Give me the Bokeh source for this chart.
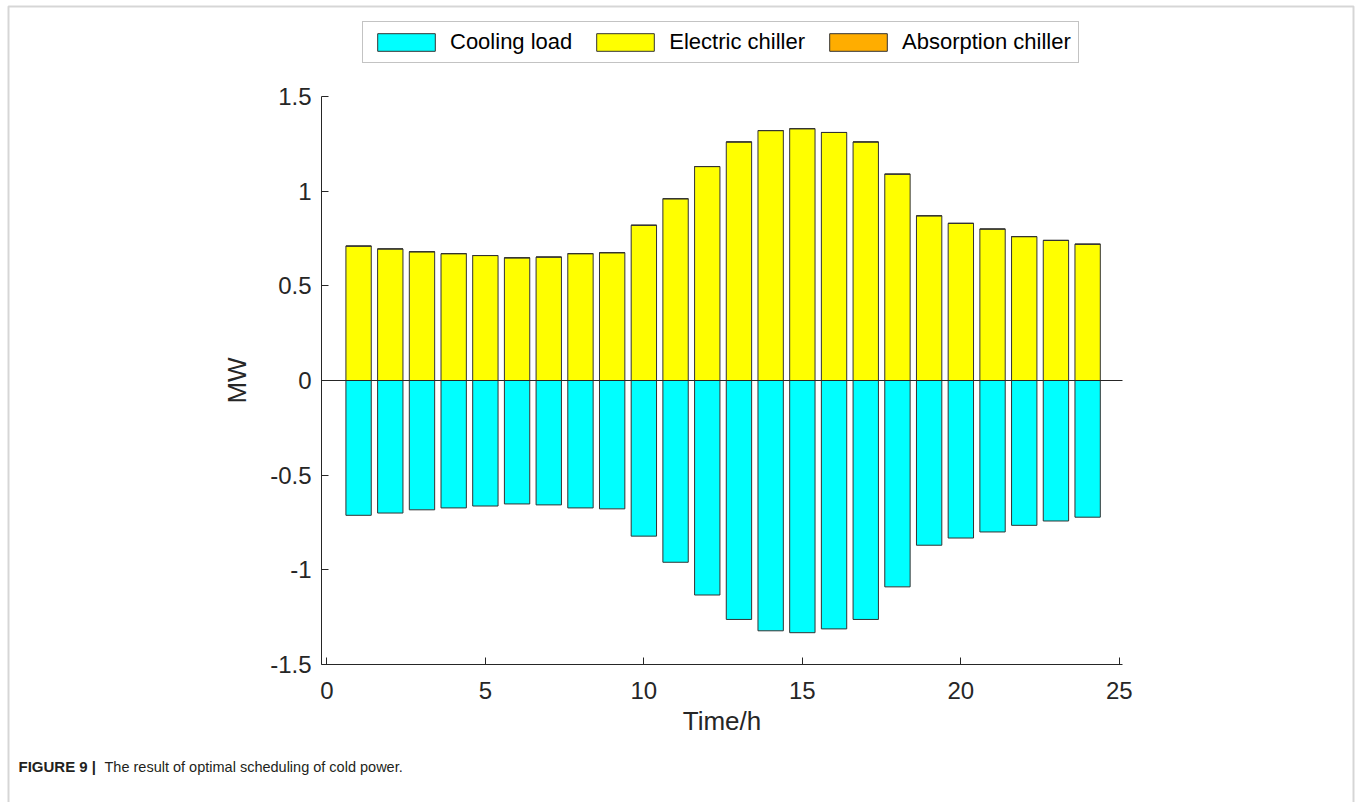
from bokeh.plotting import figure
from bokeh.models import (ColumnDataSource, Legend, LegendItem, FixedTicker,
                          Label, BoxAnnotation, Range1d)
from bokeh.embed import file_html
from bokeh.resources import INLINE

# ---- data ----
hours = list(range(1, 25))
electric_chiller = [0.71, 0.695, 0.68, 0.67, 0.66, 0.648, 0.652, 0.67, 0.675, 0.82,
                    0.96, 1.13, 1.26, 1.32, 1.33, 1.31, 1.26, 1.09, 0.87, 0.83,
                    0.80, 0.76, 0.74, 0.72]
absorption_chiller = [0.0] * 24
cooling_load = [-0.712, -0.70, -0.683, -0.673, -0.663, -0.652, -0.657, -0.673, -0.678, -0.822,
                -0.96, -1.133, -1.262, -1.322, -1.332, -1.312, -1.262, -1.09, -0.87, -0.832,
                -0.80, -0.765, -0.742, -0.722]
y_ticks = [-1.5, -1, -0.5, 0, 0.5, 1, 1.5]
y_tick_labels = ["-1.5", "-1", "-0.5", "0", "0.5", "1", "1.5"]
x_ticks = [0, 5, 10, 15, 20, 25]

# ---- layout (pixels) ----
W, H = 1356, 802
AX_L, AX_R, AX_T, AX_B = 321, 1122, 96, 664
X_LO, X_HI = -0.17, 25.1
Y_LO, Y_HI = -1.5, 1.5
kx = (AX_R - AX_L) / (X_HI - X_LO)
ky = (AX_B - AX_T) / (Y_HI - Y_LO)
def px2x(px):
    return X_LO + (px - AX_L) / kx
def px2y(py):
    return Y_HI - (py - AX_T) / ky

FONT = "Liberation Sans"
AX = "#262626"

src = ColumnDataSource(dict(
    x=hours,
    elec=electric_chiller,
    absb=[e + a for e, a in zip(electric_chiller, absorption_chiller)],
    cool=cooling_load,
    zero=[0.0] * 24,
))

p = figure(width=W, height=H, output_backend="svg", toolbar_location=None,
           x_range=Range1d(px2x(0), px2x(W)), y_range=Range1d(px2y(H), px2y(0)),
           min_border=0)
p.outline_line_color = None
p.xgrid.visible = False
p.ygrid.visible = False

r_cool = p.vbar(x="x", width=0.8, top="zero", bottom="cool", source=src,
                fill_color="#00FFFF", line_color="#333333", line_width=1)
r_elec = p.vbar(x="x", width=0.8, top="elec", bottom="zero", source=src,
                fill_color="#FFFF00", line_color="#333333", line_width=1)
r_abs = p.vbar(x="x", width=0.8, top="absb", bottom="elec", source=src,
               fill_color="#FFAD00", line_color="#333333", line_width=1)

# baseline
p.segment(x0=[X_LO], x1=[X_HI], y0=[0], y1=[0], line_color=AX, line_width=1)

xa, ya = p.xaxis[0], p.yaxis[0]
for ax in (xa, ya):
    ax.axis_line_color = AX
    ax.major_tick_line_color = AX
    ax.major_tick_in = 7
    ax.major_tick_out = 0
    ax.minor_tick_line_color = None
    ax.major_label_text_font = FONT
    ax.major_label_text_font_size = "24px"
    ax.major_label_text_color = AX
    ax.axis_label_text_font = FONT
    ax.axis_label_text_font_size = "26px"
    ax.axis_label_text_font_style = "normal"
    ax.axis_label_text_color = AX

ya.fixed_location = X_LO
ya.bounds = (Y_LO, Y_HI)
ya.ticker = FixedTicker(ticks=y_ticks)
ya.major_label_overrides = {t: l for t, l in zip(y_ticks, y_tick_labels)}
ya.major_label_standoff = 10
ya.axis_label = "MW"
ya.axis_label_standoff = 15

xa.fixed_location = Y_LO
xa.bounds = (X_LO, X_HI)
xa.ticker = FixedTicker(ticks=x_ticks)
xa.major_label_standoff = 17
xa.axis_label = "Time/h"
xa.axis_label_standoff = 4

legend = Legend(items=[
    LegendItem(label="Cooling load", renderers=[r_cool]),
    LegendItem(label="Electric chiller", renderers=[r_elec]),
    LegendItem(label="Absorption chiller", renderers=[r_abs]),
], location=(362, H - 63), orientation="horizontal")
legend.glyph_width = 72
legend.glyph_height = 22
legend.label_text_font = FONT
legend.label_text_font_size = "22px"
legend.label_text_color = "#000000"
legend.label_standoff = 8
legend.spacing = 17
legend.padding = 7
legend.margin = 0
legend.border_line_color = "#888888"
legend.border_line_width = 1
legend.background_fill_alpha = 1
p.add_layout(legend, "center")

# caption
p.add_layout(Label(x=px2x(18), y=px2y(774), text="FIGURE 9 |", text_font=FONT,
                   text_font_style="bold", text_font_size="15px", text_color="#231f20"))
p.add_layout(Label(x=px2x(104), y=px2y(774), text="The result of optimal scheduling of cold power.",
                   text_font=FONT, text_font_size="14.5px", text_color="#231f20"))

# outer frame
p.add_layout(BoxAnnotation(left=px2x(8), right=px2x(1353), top=px2y(6), bottom=px2y(H + 20),
                           fill_alpha=0, line_color="#777777", line_width=2))

open("out.html", "w").write(file_html(p, INLINE))
